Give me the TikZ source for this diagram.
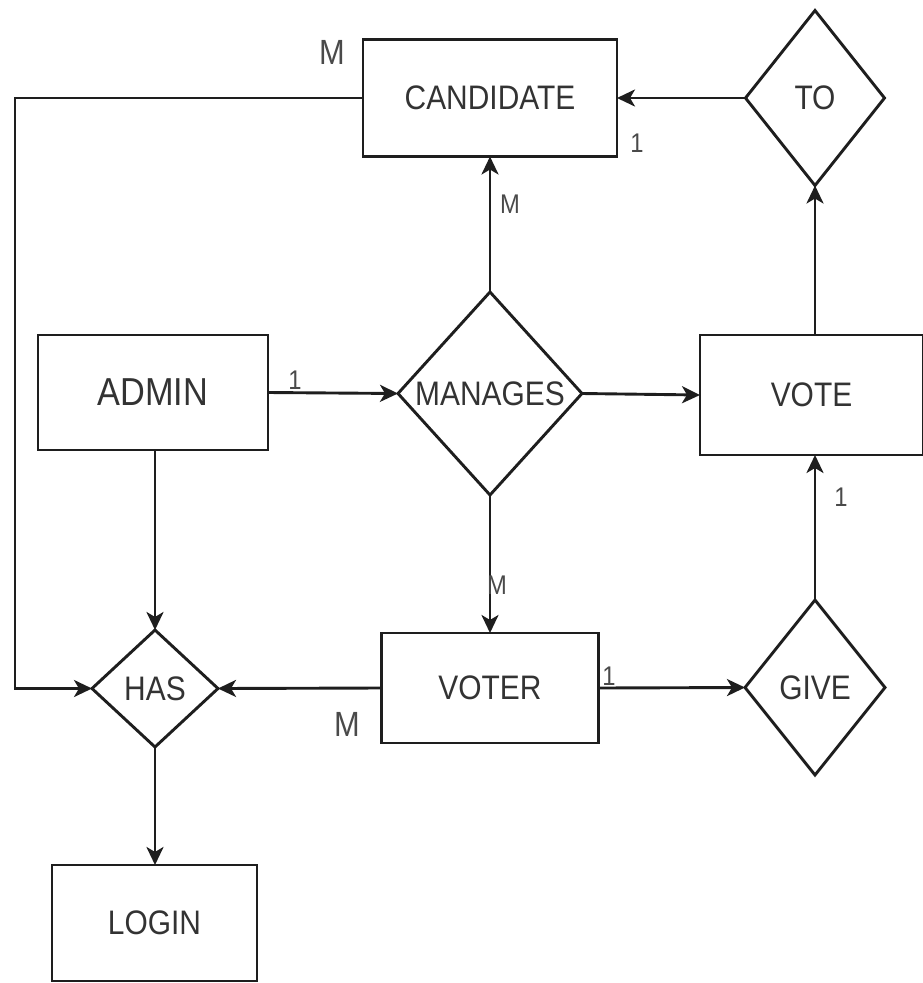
\documentclass[tikz,border=0pt]{standalone}
\usepackage{fontspec}
\setmainfont[FakeStretch=0.88]{Liberation Sans}
\usetikzlibrary{shapes.geometric,arrows.meta}
\definecolor{linec}{HTML}{1E1E1E}
\definecolor{txtc}{HTML}{333333}
\definecolor{cardc}{HTML}{4A4A4A}
\begin{document}
\begin{tikzpicture}[x={(1pt,0)},y={(0,-1pt)},
  ent/.style={draw=linec,line width=2.9pt,rectangle,inner sep=0,outer sep=0,text=txtc,font=\fontsize{34}{40}\selectfont},
  rel/.style={draw=linec,line width=2.9pt,diamond,inner sep=0,outer sep=0},
  rtxt/.style={text=txtc,font=\fontsize{34}{40}\selectfont,inner sep=0},
  conn/.style={draw=linec,line width=2.9pt,-{Stealth[length=18pt,width=17pt,inset=5pt]}},
  card/.style={text=cardc,font=\fontsize{27}{32}\selectfont,inner sep=0},
  bigcard/.style={text=cardc,font=\fontsize{35}{40}\selectfont,inner sep=0}]
\useasboundingbox (0,0) rectangle (923,983);

% entities
\node[ent,minimum width=254pt,minimum height=117pt] (cand) at (490,98) {CANDIDATE};
\node[ent,minimum width=230pt,minimum height=115pt,font=\fontsize{39}{45}\selectfont] (admin) at (153,392.5) {ADMIN};
\node[ent,minimum width=223pt,minimum height=120pt] (vote) at (811.5,395) {VOTE};
\node[ent,minimum width=217pt,minimum height=110pt] (voter) at (490,688) {VOTER};
\node[ent,minimum width=205pt,minimum height=116pt] (login) at (154.5,923) {LOGIN};

% relationships
\node[rel,minimum width=139pt,minimum height=175pt] (to) at (815,98) {};
\node[rtxt] at (to) {TO};
\node[rel,minimum width=184pt,minimum height=203pt] (man) at (490,393.5) {};
\node[rtxt] at (man) {MANAGES};
\node[rel,minimum width=140pt,minimum height=175pt] (give) at (815,687.5) {};
\node[rtxt] at (give) {GIVE};
\node[rel,minimum width=126pt,minimum height=117pt] (has) at (155,688.5) {};
\node[rtxt] at (has) {HAS};

% connectors
\coordinate (tl) at (15,98);
\coordinate (bl) at (15,688.5);
\draw[conn] (to.west) -- (cand.east);
\draw[conn] (man.north) -- (cand.south);
\draw[conn] (admin.east) -- (man.west);
\draw[conn] (man.east) -- (vote.west);
\draw[conn] (vote.north -| to) -- (to.south);
\draw[conn] (give.north) -- (give.north |- vote.south);
\draw[conn] (man.south) -- (voter.north);
\draw[conn] (voter.east) -- (give.west);
\draw[conn] (voter.west) -- (has.east);
\draw[conn] (admin.south -| has) -- (has.north);
\draw[conn] (cand.west) -- (tl) -- (bl) -- (has.west);
\draw[conn] (has.south) -- (has.south |- login.north);

% cardinalities
\node[bigcard] (c1) at (332,52) {M};
\node[card] (c2) at (637,143) {1};
\node[card] (c3) at (510,204) {M};
\node[card] (c4) at (295,380) {1};
\node[card] (c5) at (841,497) {1};
\node[card] (c6) at (497,585) {M};
\node[card] (c7) at (609,676) {1};
\node[bigcard] (c8) at (347,724) {M};
\end{tikzpicture}
\end{document}
